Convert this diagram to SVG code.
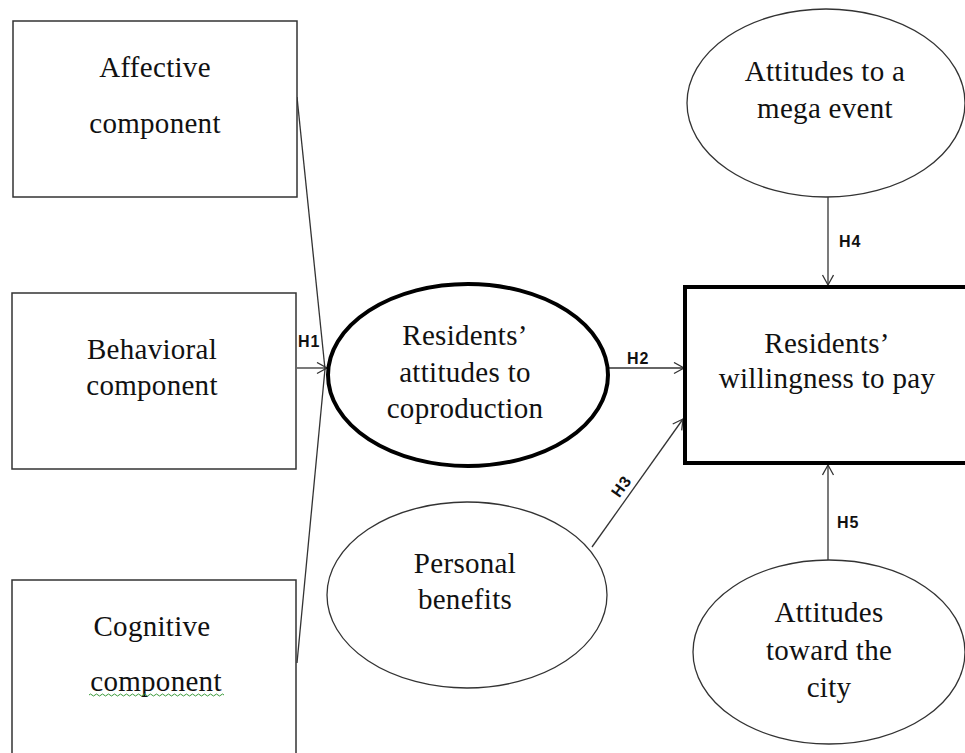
<svg xmlns="http://www.w3.org/2000/svg" width="965" height="753" viewBox="0 0 965 753">
<defs>
<style>
.bg{fill:#fff}
.box{fill:#fff;stroke:#333;stroke-width:1.5}
.thick{fill:#fff;stroke:#000;stroke-width:4}
.oval{fill:#fff;stroke:#333;stroke-width:1.3}
.lbl{font-family:"Liberation Serif","Times New Roman",serif;font-size:29px;fill:#111;text-anchor:middle;letter-spacing:0.3px}
.h{font-family:"Liberation Sans",Arial,sans-serif;font-size:16px;font-weight:bold;fill:#111;letter-spacing:1px}
.con{stroke:#333;stroke-width:1.3;fill:none}
</style>
<marker id="arr" markerUnits="userSpaceOnUse" markerWidth="14" markerHeight="14" refX="11" refY="6" orient="auto">
<path d="M1,0.5 L11,6 L1,11.5" fill="none" stroke="#333" stroke-width="1.3"/>
</marker>
</defs>
<rect class="bg" x="0" y="0" width="965" height="753"/>

<g id="connectors">
<line class="con" x1="297" y1="97" x2="325" y2="369"/>
<line class="con" x1="297" y1="663" x2="325" y2="369"/>
<line class="con" x1="297" y1="368" x2="327" y2="368" marker-end="url(#arr)"/>
<line class="con" x1="608" y1="368" x2="684" y2="368" marker-end="url(#arr)"/>
<line class="con" x1="592" y1="547" x2="683" y2="419" marker-end="url(#arr)"/>
<line class="con" x1="828" y1="197" x2="828" y2="285" marker-end="url(#arr)"/>
<line class="con" x1="828" y1="560" x2="828" y2="465" marker-end="url(#arr)"/>
<text class="h" x="298" y="347">H1</text>
<text class="h" x="627" y="364">H2</text>
<text class="h" transform="translate(621,486) rotate(-54.5)" text-anchor="middle" dy="6">H3</text>
<text class="h" x="839" y="247">H4</text>
<text class="h" x="837" y="528">H5</text>
</g>

<g id="affective">
<rect class="box" x="13" y="21" width="284" height="176"/>
<text class="lbl" x="155" y="77">Affective</text>
<text class="lbl" x="155" y="133">component</text>
</g>

<g id="behavioral">
<rect class="box" x="12" y="293" width="284" height="176"/>
<text class="lbl" x="152" y="359">Behavioral</text>
<text class="lbl" x="152" y="395">component</text>
</g>

<g id="cognitive">
<rect class="box" x="12" y="580" width="284" height="190"/>
<text class="lbl" x="152" y="636">Cognitive</text>
<text class="lbl" x="156" y="691">component</text>
<path d="M89,695 q1.5,-2 3,0 t3,0 t3,0 t3,0 t3,0 t3,0 t3,0 t3,0 t3,0 t3,0 t3,0 t3,0 t3,0 t3,0 t3,0 t3,0 t3,0 t3,0 t3,0 t3,0 t3,0 t3,0 t3,0 t3,0 t3,0 t3,0 t3,0 t3,0 t3,0 t3,0 t3,0 t3,0 t3,0 t3,0 t3,0 t3,0 t3,0 t3,0 t3,0 t3,0 t3,0 t3,0 t3,0 t3,0 t3,0" fill="none" stroke="#3a9a3a" stroke-width="1"/>
</g>

<g id="coproduction">
<ellipse class="thick" cx="468" cy="375" rx="140" ry="91"/>
<text class="lbl" x="465" y="345">Residents’</text>
<text class="lbl" x="465" y="382">attitudes to</text>
<text class="lbl" x="465" y="418">coproduction</text>
</g>

<g id="personal">
<ellipse class="oval" cx="467" cy="595" rx="140" ry="93"/>
<text class="lbl" x="465" y="573">Personal</text>
<text class="lbl" x="465" y="609">benefits</text>
</g>

<g id="willingness">
<rect class="thick" x="685" y="287" width="300" height="176"/>
<text class="lbl" x="827" y="353">Residents’</text>
<text class="lbl" x="827" y="388">willingness to pay</text>
</g>

<g id="megaevent">
<ellipse class="oval" cx="826" cy="103" rx="139" ry="94"/>
<text class="lbl" x="825" y="81">Attitudes to a</text>
<text class="lbl" x="825" y="118">mega event</text>
</g>

<g id="city">
<ellipse class="oval" cx="829" cy="652" rx="136" ry="92"/>
<text class="lbl" x="829" y="622">Attitudes</text>
<text class="lbl" x="829" y="660">toward the</text>
<text class="lbl" x="829" y="697">city</text>
</g>
</svg>
